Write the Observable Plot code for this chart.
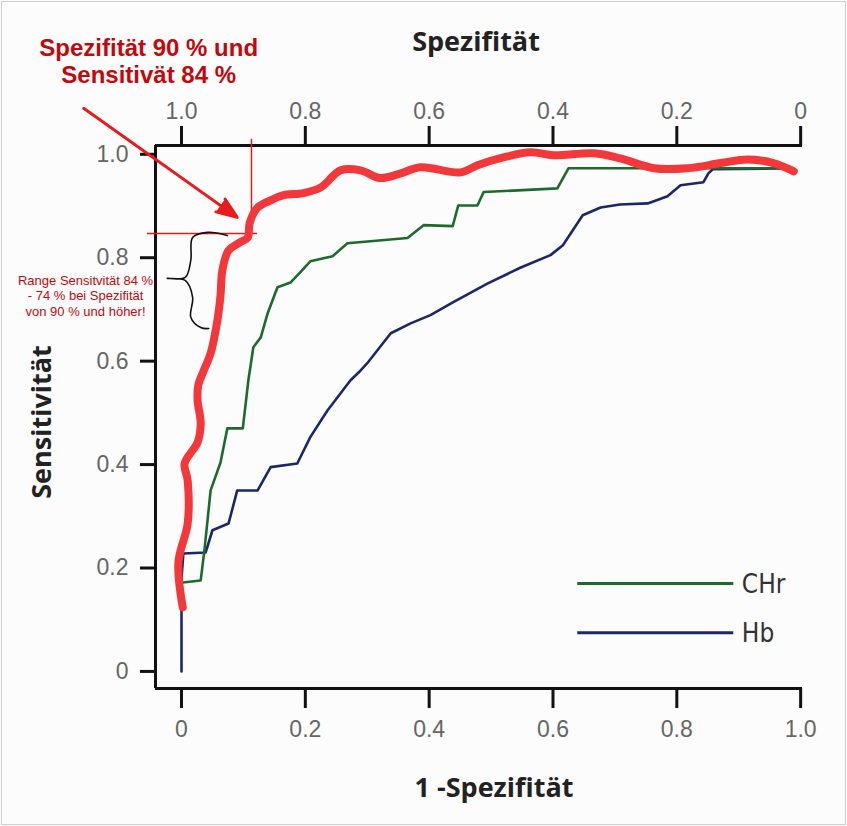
<!DOCTYPE html>
<html>
<head>
<meta charset="utf-8">
<script src="https://cdn.jsdelivr.net/npm/d3@7"></script>
<script src="https://cdn.jsdelivr.net/npm/@observablehq/plot@0.6"></script>
<style>
  html, body { margin: 0; padding: 0; background: #fff; overflow: hidden; }
  #wrap { position: relative; width: 847px; height: 826px; background: #fcfcfc; }
  #wrap::after { content: ""; position: absolute; left: 1px; top: 1px; width: 843px; height: 822px;
    border: 1px solid #cfcfcf; pointer-events: none; }
  svg { display: block; }
</style>
</head>
<body>
<div id="wrap"></div>
<script>
// ---- tick values and labels ----
const xTicks = [0, 0.2, 0.4, 0.6, 0.8, 1.0];
const xTickLabels = ["0", "0.2", "0.4", "0.6", "0.8", "1.0"];
const topTickLabels = ["1.0", "0.8", "0.6", "0.4", "0.2", "0"];
const yTicks = [0, 0.2, 0.4, 0.6, 0.8, 1.0];
const yTickLabels = ["0", "0.2", "0.4", "0.6", "0.8", "1.0"];

// ---- series ----
const series = ["CHr", "Hb"];

// CHr (green)
const chrFpr  = [0.002, 0.031, 0.037, 0.047, 0.063, 0.074, 0.099, 0.108, 0.116, 0.128, 0.139, 0.155, 0.176, 0.192, 0.208, 0.244, 0.268, 0.365, 0.391, 0.438, 0.447, 0.478, 0.488, 0.607, 0.625, 0.979];
const chrSens = [0.172, 0.176, 0.234, 0.350, 0.404, 0.470, 0.470, 0.563, 0.627, 0.646, 0.692, 0.743, 0.752, 0.772, 0.793, 0.803, 0.828, 0.838, 0.863, 0.861, 0.901, 0.901, 0.927, 0.934, 0.973, 0.973];

// Hb (blue)
const hbFpr  = [0.000, 0.000, 0.003, 0.039, 0.050, 0.076, 0.090, 0.123, 0.144, 0.187, 0.208, 0.236, 0.273, 0.286, 0.300, 0.338, 0.370, 0.402, 0.439, 0.494, 0.548, 0.596, 0.616, 0.648, 0.677, 0.708, 0.753, 0.785, 0.806, 0.843, 0.851, 0.858, 0.979];
const hbSens = [0.000, 0.180, 0.228, 0.230, 0.273, 0.286, 0.350, 0.350, 0.395, 0.402, 0.453, 0.505, 0.563, 0.578, 0.596, 0.654, 0.673, 0.689, 0.714, 0.750, 0.781, 0.805, 0.824, 0.882, 0.897, 0.903, 0.905, 0.919, 0.940, 0.946, 0.963, 0.971, 0.973];

// hand-drawn red highlight curve
const markFpr  = [0.002, -0.005, 0.010, 0.010, 0.005, 0.026, 0.031, 0.026, 0.027, 0.036, 0.047, 0.058, 0.063, 0.066, 0.076, 0.095, 0.107, 0.110, 0.123, 0.144, 0.165, 0.197, 0.225, 0.257, 0.289, 0.321, 0.354, 0.386, 0.451, 0.478, 0.520, 0.564, 0.601, 0.666, 0.709, 0.763, 0.817, 0.871, 0.914, 0.956, 0.989];
const markSens = [0.124, 0.211, 0.286, 0.369, 0.402, 0.443, 0.480, 0.524, 0.553, 0.582, 0.615, 0.679, 0.727, 0.776, 0.814, 0.830, 0.839, 0.867, 0.897, 0.911, 0.921, 0.925, 0.936, 0.969, 0.969, 0.954, 0.963, 0.975, 0.965, 0.979, 0.994, 1.004, 0.998, 1.002, 0.992, 0.973, 0.973, 0.983, 0.990, 0.983, 0.967];

// hand-drawn brace
const braceFpr  = [0.074, 0.042, 0.018, 0.015, 0.006, -0.023, 0.006, 0.018, 0.015, 0.031, 0.044];
const braceSens = [0.843, 0.849, 0.839, 0.795, 0.762, 0.760, 0.756, 0.723, 0.685, 0.665, 0.663];

// annotation values
const cutFpr = 0.113;   // Spezifität ~90 %
const cutSens = 0.847;  // Sensitivität ~84 %
const noteTitle = "Spezifität 90 % und\nSensitivät 84 %";
const noteRange = "Range Sensitvität 84 %\n- 74 % bei Spezifität\nvon 90 % und höher!";

// legend sample positions
const legendSens = [0.170, 0.075];

const rows = (xs, ys) => xs.map((x, i) => ({x, y: ys[i]}));

const xDomain = [-0.042, 1.003];
const yDomain = [-0.033, 1.017];
const colors = {CHr: "#1d6a2c", Hb: "#1b2769"};
const red = "#f2383a";
const darkRed = "#c2080c";
const tickFont = "Liberation Sans, Arial, sans-serif";
const titleFont = "'Open Sans', 'DejaVu Sans', sans-serif";

const fmt = (labels) => (d) => labels[xTicks.indexOf(d)];

const plot = Plot.plot({
  width: 847,
  height: 826,
  marginLeft: 155,
  marginRight: 45,
  marginTop: 145,
  marginBottom: 138,
  x: {domain: xDomain, axis: null},
  y: {domain: yDomain, axis: null},
  style: {background: "transparent", overflow: "visible"},
  marks: [
    // axis lines
    Plot.ruleY([yDomain[0]], {stroke: "#111", strokeWidth: 3}),
    Plot.ruleY([yDomain[1]], {stroke: "#111", strokeWidth: 3}),
    Plot.ruleX([xDomain[0]], {stroke: "#111", strokeWidth: 3}),
    // axes
    Plot.axisX(xTicks, {anchor: "bottom", label: null, tickSize: 20, tickPadding: 12, strokeWidth: 3, stroke: "#111",
      fill: "#666", fontSize: 23, fontFamily: tickFont, tickFormat: fmt(xTickLabels)}),
    Plot.axisX(xTicks, {anchor: "top", label: null, tickSize: 20, tickPadding: 7, strokeWidth: 3, stroke: "#111",
      fill: "#666", fontSize: 23, fontFamily: tickFont, tickFormat: fmt(topTickLabels)}),
    Plot.axisY(yTicks, {anchor: "left", label: null, tickSize: 15, tickPadding: 12, strokeWidth: 3, stroke: "#111",
      fill: "#666", fontSize: 23, fontFamily: tickFont, tickFormat: (d) => yTickLabels[yTicks.indexOf(d)]}),
    // axis titles
    Plot.text(["Spezifität"], {frameAnchor: "top", lineAnchor: "middle", textAnchor: "middle", dy: -103, dx: -3,
      fontSize: 27, fontWeight: "bold", fontFamily: titleFont, fill: "#222"}),
    Plot.text(["1 -Spezifität"], {frameAnchor: "bottom", lineAnchor: "middle", textAnchor: "middle", dy: 100, dx: 15,
      fontSize: 27, fontWeight: "bold", fontFamily: titleFont, fill: "#222"}),
    Plot.text(["Sensitivität"], {frameAnchor: "left", lineAnchor: "middle", textAnchor: "middle", dx: -113, dy: 5, rotate: -90,
      fontSize: 27, fontWeight: "bold", fontFamily: titleFont, fill: "#222"}),
    // ROC curves
    Plot.line(rows(hbFpr, hbSens), {x: "x", y: "y", stroke: colors.Hb, strokeWidth: 2.6, strokeLinejoin: "round"}),
    Plot.line(rows(chrFpr, chrSens), {x: "x", y: "y", stroke: colors.CHr, strokeWidth: 2.6, strokeLinejoin: "round"}),
    // legend
    Plot.ruleY(series.map((s, i) => ({s, y: legendSens[i]})), {y: "y", x1: 0.640, x2: 0.892, stroke: (d) => colors[d.s], strokeWidth: 3}),
    Plot.text(series.map((s, i) => ({s, y: legendSens[i]})), {x: 0.905, y: "y", text: "s", textAnchor: "start",
      fontSize: 26, fontFamily: "'Liberation Sans Narrow', 'DejaVu Sans Condensed', sans-serif", fill: "#333", dy: 1}),
    // annotation guide lines
    Plot.ruleY([cutSens], {x1: -0.055, x2: 0.123, stroke: "#e3191b", strokeWidth: 1.5}),
    Plot.ruleX([cutFpr], {y1: cutSens, y2: 1.029, stroke: "#e3191b", strokeWidth: 1.5}),
    // brace
    Plot.line(rows(braceFpr, braceSens), {x: "x", y: "y", curve: "catmull-rom", stroke: "#111", strokeWidth: 1.6}),
    // red highlighted curve
    Plot.line(rows(markFpr, markSens), {x: "x", y: "y", curve: "catmull-rom", stroke: red, strokeWidth: 8,
      strokeLinecap: "round", strokeLinejoin: "round"}),
    // arrow
    Plot.arrow([{x1: -0.158, y1: 1.089, x2: 0.090, y2: 0.878}], {x1: "x1", y1: "y1", x2: "x2", y2: "y2",
      stroke: "#ea1a1c", fill: "#ea1a1c", strokeWidth: 3, headLength: 11, headAngle: 42, strokeLinejoin: "miter"}),
    // notes
    Plot.text([noteTitle], {x: -0.053, y: 1.181, fontSize: 24, fontWeight: "bold", lineHeight: 1.15,
      fontFamily: "Liberation Sans, Arial, sans-serif", fill: darkRed, ariaLabel: "note"}),
    Plot.text([noteRange], {x: -0.155, y: 0.727, fontSize: 13, lineHeight: 1.17,
      fontFamily: "Liberation Sans, Arial, sans-serif", fill: darkRed, ariaLabel: "note"})
  ]
});

const svg = d3.select(plot);
const filter = svg.insert("defs", ":first-child").append("filter")
  .attr("id", "shadow").attr("x", "-10%").attr("y", "-20%").attr("width", "130%").attr("height", "160%");
filter.append("feDropShadow").attr("dx", 2).attr("dy", 2).attr("stdDeviation", 1.3)
  .attr("flood-color", "#000").attr("flood-opacity", 0.35);
svg.selectAll('g[aria-label="note"]').attr("filter", "url(#shadow)");

document.getElementById("wrap").appendChild(plot);
</script>
</body>
</html>
